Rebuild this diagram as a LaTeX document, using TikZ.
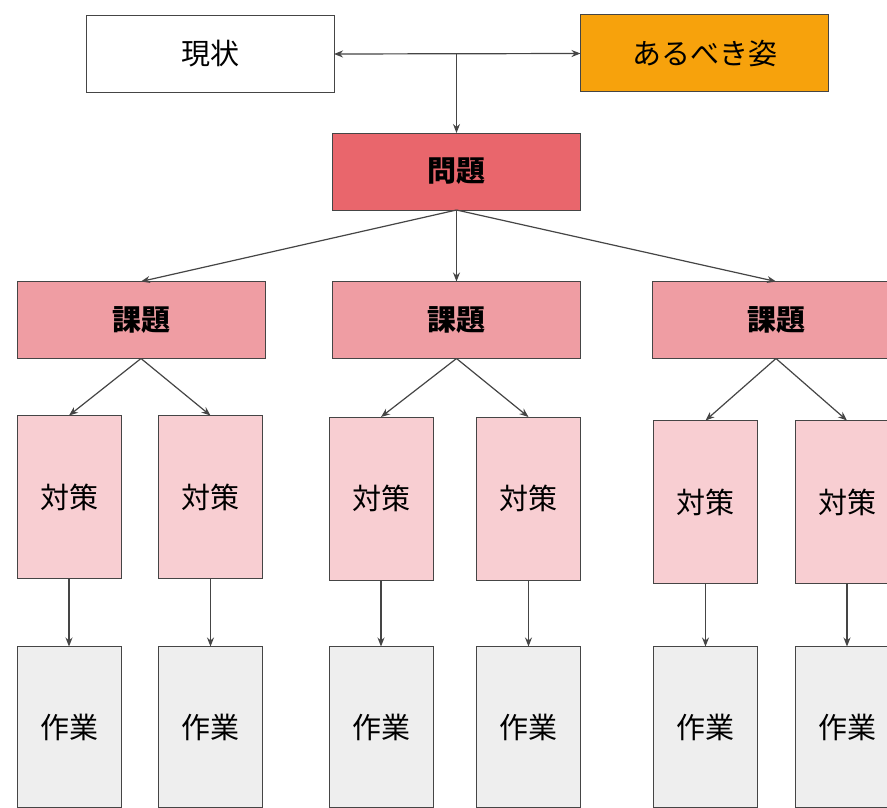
\documentclass[tikz,border=0pt]{standalone}
\usepackage{fontspec}
\setmainfont{Noto Sans CJK JP}
\usepackage{xcolor}
\usepackage{tikz}
\usetikzlibrary{arrows.meta, positioning}

\definecolor{lineGray}{HTML}{454545}
\definecolor{ideal}{HTML}{F7A20C}
\definecolor{problem}{HTML}{E9666C}
\definecolor{issue}{HTML}{EF9DA3}
\definecolor{measure}{HTML}{F8CED2}
\definecolor{task}{HTML}{EEEEEE}

\begin{document}
\begin{tikzpicture}[x=1pt, y=-1pt,
  box/.style={draw=lineGray, line width=1pt, inner sep=0pt, outer sep=0pt, font=\fontsize{29}{32}\selectfont},
  wide/.style={box, minimum width=248pt, minimum height=77pt},
  tall/.style={box, minimum width=104pt, minimum height=163pt},
  heading/.style={font=\fontsize{29}{32}\selectfont\bfseries},
  arr/.style={draw=lineGray, line width=1.2pt, -{Stealth[length=9pt, width=7pt]}}]
\useasboundingbox (0,0) rectangle (887,808);
\fill[white] (0,0) rectangle (887,808);

\node[wide, fill=white] (genjo) at (210,54) {現状};
\node[wide, fill=ideal] (ideal) at (704.5,53.5) {あるべき姿};
\node[wide, fill=problem, heading] (mondai) at (456.5,171.5) {問題};

% issues
\node[wide, fill=issue, heading] (kadai1) at (141,320) {課題};
\node[wide, fill=issue, heading] (kadai2) at (456.5,320) {課題};
\node[wide, fill=issue, heading] (kadai3) at (776,320) {課題};

% measures and tasks
\foreach \n/\x/\y in {1/69/497, 2/210.5/497, 3/381/498.5, 4/528.5/498.5, 5/705.5/502, 6/847/502} {
  \node[tall, fill=measure] (taisaku\n) at (\x,\y) {対策};
  \node[tall, fill=task, minimum height=161pt] (sagyo\n) at (\x,727) {作業};
  \draw[arr] (taisaku\n.south) -- (sagyo\n.north);
}

\coordinate (junction) at (mondai.north |- genjo.east);
\draw[draw=lineGray, line width=1.2pt, {Stealth[length=9pt, width=7pt]}-{Stealth[length=9pt, width=7pt]}] (genjo.east) -- (ideal.west);
\draw[arr] (junction) -- (mondai.north);

\draw[arr] (mondai.south) -- (kadai1.north);
\draw[arr] (mondai.south) -- (kadai2.north);
\draw[arr] (mondai.south) -- (kadai3.north);

\draw[arr] (kadai1.south) -- (taisaku1.north);
\draw[arr] (kadai1.south) -- (taisaku2.north);
\draw[arr] (kadai2.south) -- (taisaku3.north);
\draw[arr] (kadai2.south) -- (taisaku4.north);
\draw[arr] (kadai3.south) -- (taisaku5.north);
\draw[arr] (kadai3.south) -- (taisaku6.north);
\end{tikzpicture}
\end{document}
